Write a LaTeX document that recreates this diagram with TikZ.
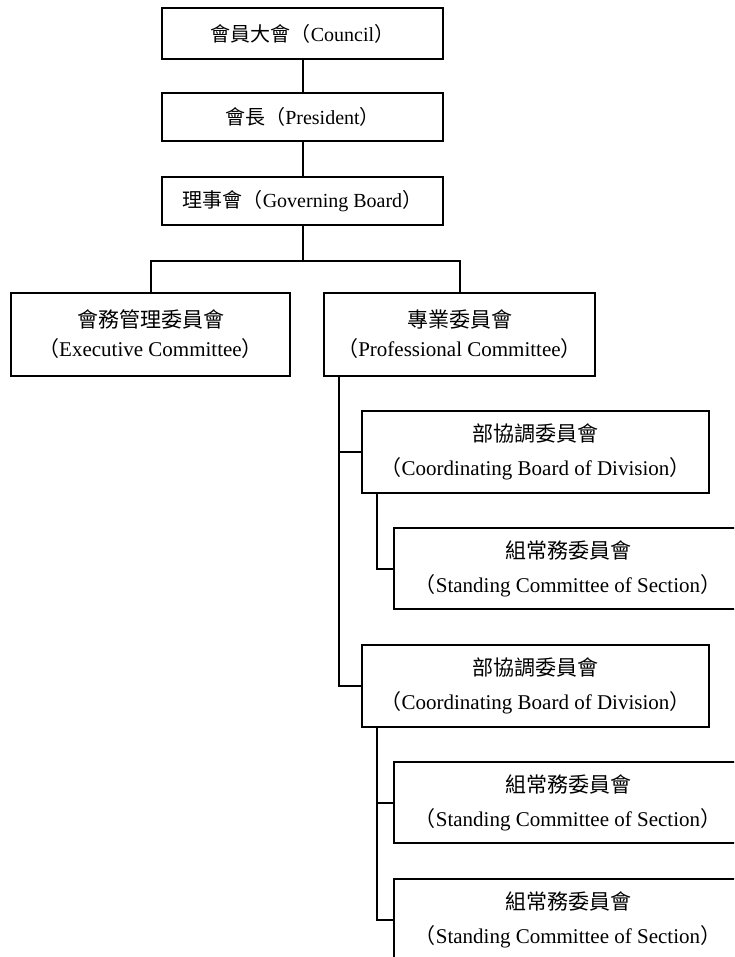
\documentclass[tikz,border=0pt]{standalone}
\usepackage{fontspec}
\setmainfont{Liberation Serif}
\newfontfamily\cjkfont{Noto Sans CJK TC}
\newcommand{\hanzi}[1]{{\cjkfont #1}}

\begin{document}
\begin{tikzpicture}[x=1pt, y=-1pt, line width=2pt,
  box/.style={draw, rectangle, inner sep=0pt, align=center,
    font=\fontsize{20}{28}\selectfont},
  pair/.style={box, font=\fontsize{21}{29}\selectfont},
  unit/.style={box, minimum width=347pt, minimum height=82pt,
    font=\fontsize{21}{34}\selectfont}]

\useasboundingbox (0,0) rectangle (734,957);
\clip (0,0) rectangle (734,957);

% top of the chart
\node[box, minimum width=281pt, minimum height=51pt] (council) at (302.5,33.5) {\hanzi{會員大會（}Council\hanzi{）}};
\node[box, minimum width=281pt, minimum height=48pt] (president) at (302.5,117) {\hanzi{會長（}President\hanzi{）}};
\node[box, minimum width=281pt, minimum height=48pt] (board) at (302.5,201) {\hanzi{理事會（}Governing Board\hanzi{）}};

\draw (council.south) -- (president.north);
\draw (president.south) -- (board.north);

% two committees under the board
\node[pair, minimum width=279pt, minimum height=83pt] (exec) at (150.5,334.5) {\hanzi{會務管理委員會}\\\hanzi{（}Executive Committee\hanzi{）}};
\node[pair, minimum width=271pt, minimum height=83pt] (prof) at (459.5,334.5) {\hanzi{專業委員會}\\\hanzi{（}Professional Committee\hanzi{）}};

\draw (board.south) -- ++(0,35) coordinate (fork);
\draw (exec.north) |- (fork) -| (prof.north);

% divisions and sections
\node[unit] (div1) at (535.5,452) {\hanzi{部協調委員會}\\\hanzi{（}Coordinating Board of Division\hanzi{）}};
\node[unit, minimum width=348pt, minimum height=81pt] (sec1) at (568,568.5) {\hanzi{組常務委員會}\\\hanzi{（}Standing Committee of Section\hanzi{）}};
\node[unit] (div2) at (535.5,686) {\hanzi{部協調委員會}\\\hanzi{（}Coordinating Board of Division\hanzi{）}};
\node[unit, minimum width=348pt, minimum height=81pt] (sec2) at (568,802.5) {\hanzi{組常務委員會}\\\hanzi{（}Standing Committee of Section\hanzi{）}};
\node[unit, minimum width=348pt, minimum height=81pt] (sec3) at (568,919.5) {\hanzi{組常務委員會}\\\hanzi{（}Standing Committee of Section\hanzi{）}};

\draw ([xshift=16pt]prof.south west) |- (div1.west);
\draw ([xshift=16pt]prof.south west) |- (div2.west);
\draw ([xshift=16pt]div1.south west) |- (sec1.west);
\draw ([xshift=16pt]div2.south west) |- (sec2.west);
\draw ([xshift=16pt]div2.south west) |- (sec3.west);
\end{tikzpicture}
\end{document}
